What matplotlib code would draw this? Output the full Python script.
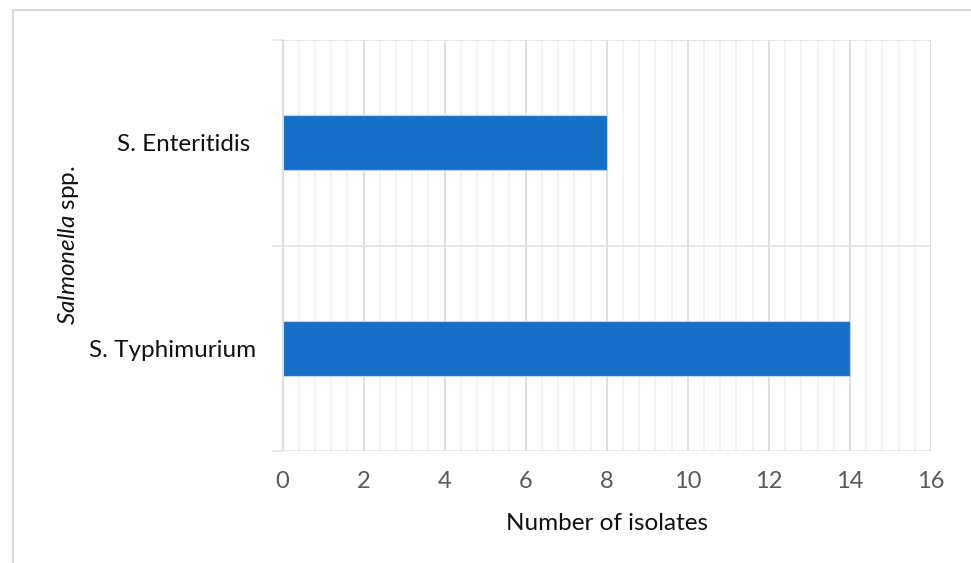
import matplotlib.pyplot as plt
from matplotlib.lines import Line2D
from matplotlib.ticker import MultipleLocator, FixedLocator

# isolate counts per serovar (bottom to top)
serovars = ['S. Typhimurium', 'S. Enteritidis ']
isolates = [14, 8]
x_ticks = [0, 2, 4, 6, 8, 10, 12, 14, 16]

plt.rcParams['font.family'] = ['Lato', 'DejaVu Sans']
plt.rcParams['mathtext.fontset'] = 'custom'
plt.rcParams['mathtext.it'] = 'Lato:italic'
plt.rcParams['mathtext.rm'] = 'Lato'

W, H = 971, 563
fig = plt.figure(figsize=(W / 100, H / 100), dpi=100)
ax = fig.add_axes([282.5 / W, 1 - 451 / H, (931 - 282.5) / W, (451 - 40) / H])

pos = list(range(len(serovars)))
ax.barh(pos, isolates, height=0.27, color='#1770C8', edgecolor='#BDD7EE',
        linewidth=0.8, zorder=3)

ax.set_xlim(x_ticks[0], x_ticks[-1])
ax.set_ylim(-0.5, len(serovars) - 0.5)
ax.set_xticks(x_ticks)
ax.xaxis.set_minor_locator(MultipleLocator(0.4))
ax.set_yticks(pos)
ax.set_yticklabels(serovars)
ax.yaxis.set_minor_locator(FixedLocator([p - 0.5 for p in range(len(serovars) + 1)]))

# vertical gridlines, major darker than minor
ax.grid(axis='x', which='major', color='#D9D9D9', linewidth=1.2, zorder=0)
ax.grid(axis='x', which='minor', color='#F0F0F0', linewidth=1.2, zorder=0)
# category boundary lines
ax.grid(axis='y', which='minor', color='#E3E3E3', linewidth=1.2, zorder=0)

for s in ['top', 'right', 'bottom']:
    ax.spines[s].set_visible(False)
ax.spines['left'].set_color('#D9D9D9')
ax.spines['left'].set_linewidth(1.2)
ax.spines['left'].set_zorder(4)

ax.tick_params(axis='x', which='both', length=0, pad=14.5, labelsize=17,
               labelcolor='#595959')
ax.tick_params(axis='y', which='major', length=0, pad=19, labelsize=17.5,
               labelcolor='#111111')
ax.tick_params(axis='y', which='minor', length=8, width=1.2, color='#E3E3E3')

ax.set_xlabel('Number of isolates', fontsize=17.5, color='#111111', labelpad=15)
ax.set_ylabel(r'$\it{Salmonella}$ spp.', fontsize=17.5, color='#111111')
ax.yaxis.set_label_coords(-(282.5 - 81) / (931 - 282.5), 0.5)

# light frame around the chart area
fig.add_artist(Line2D([13 / W, 1], [1 - 10 / H, 1 - 10 / H], color='#D9D9D9',
                      linewidth=1.5, transform=fig.transFigure))
fig.add_artist(Line2D([13 / W, 13 / W], [0, 1 - 10 / H], color='#D9D9D9',
                      linewidth=1.5, transform=fig.transFigure))

fig.savefig('out.png', dpi=100)
